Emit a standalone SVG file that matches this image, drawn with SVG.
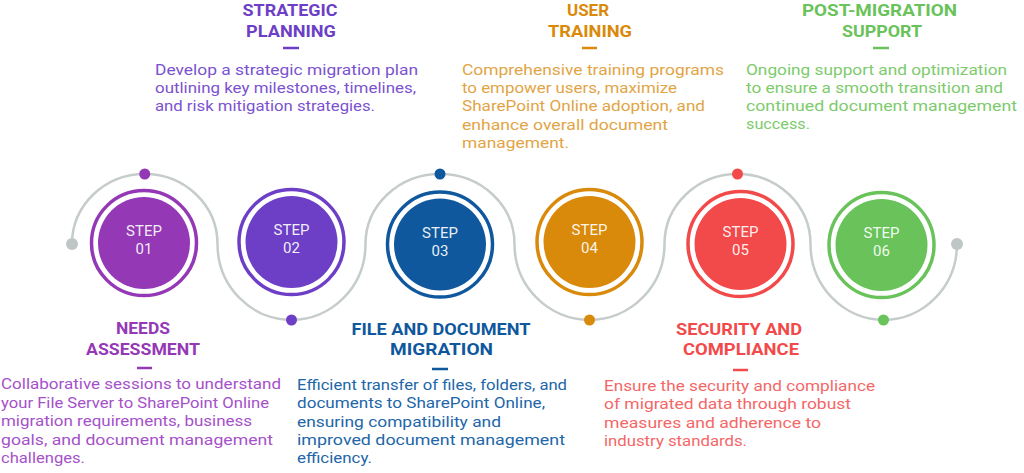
<svg xmlns="http://www.w3.org/2000/svg" width="1024" height="473" viewBox="0 0 1024 473">
<style>
.ring{fill:none;stroke-width:3.5}
.st{font-family:Roboto,"Liberation Sans",sans-serif;font-size:15px;fill:#fff;fill-opacity:0.92;text-anchor:middle}
.ti{font-family:Roboto,"Liberation Sans",sans-serif;font-weight:700;font-size:16.5px;text-anchor:middle}
.bd{font-family:Roboto,"Liberation Sans",sans-serif;font-size:15px}
.dash{stroke-width:2.5}
.c1{fill:#9438b6}.s1{stroke:#9438b6}.b1{fill:#a551c9}
.c2{fill:#6d3fc6}.s2{stroke:#6d3fc6}.b2{fill:#7b52cf}
.c3{fill:#0f589e}.s3{stroke:#0f589e}.b3{fill:#2266a8}
.c4{fill:#d98a0a}.s4{stroke:#d98a0a}.b4{fill:#e2a445}
.c5{fill:#f24a4a}.s5{stroke:#f24a4a}.b5{fill:#f46767}
.c6{fill:#69c35a}.s6{stroke:#69c35a}.b6{fill:#7dcb6c}
</style>
<g id="connectors">
<path d="M 72 244 A 72.75 70 0 0 1 217.5 244 A 74 76 0 0 0 365.5 244 A 74.5 70 0 0 1 514.5 244 A 75 76 0 0 0 664.5 244 A 73 70 0 0 1 810.5 244 A 73.25 76 0 0 0 957 244" fill="none" stroke="#c6cccc" stroke-width="2.5"/>
<circle cx="72" cy="244" r="6" fill="#bfc6c6"/>
<circle cx="957" cy="244" r="6" fill="#bfc6c6"/>
<circle cx="144.75" cy="174" r="5.5" class="c1"/>
<circle cx="291.5" cy="320" r="5.5" class="c2"/>
<circle cx="440" cy="174" r="5.5" class="c3"/>
<circle cx="589.5" cy="320" r="5.5" class="c4"/>
<circle cx="737.5" cy="174" r="5.5" class="c5"/>
<circle cx="883.5" cy="320" r="5.5" class="c6"/>
</g>
<g id="step1">
<circle cx="144" cy="243" r="52.5" class="ring s1"/>
<circle cx="144" cy="243" r="46" class="c1"/>
<text x="144" y="236" class="st">STEP</text>
<text x="144" y="254" class="st">01</text>
<text x="143" y="334" class="ti c1" textLength="54" lengthAdjust="spacingAndGlyphs">NEEDS</text>
<text x="143" y="355" class="ti c1" textLength="114" lengthAdjust="spacingAndGlyphs">ASSESSMENT</text>
<line x1="137" y1="368" x2="152" y2="368" class="dash s1"/>
<text class="bd b1"><tspan x="1" y="389" textLength="280" lengthAdjust="spacingAndGlyphs">Collaborative sessions to understand</tspan></text>
<text class="bd b1"><tspan x="1" y="407.5" textLength="268" lengthAdjust="spacingAndGlyphs">your File Server to SharePoint Online</tspan></text>
<text class="bd b1"><tspan x="1" y="426" textLength="251" lengthAdjust="spacingAndGlyphs">migration requirements, business</tspan></text>
<text class="bd b1"><tspan x="1" y="444.5" textLength="272" lengthAdjust="spacingAndGlyphs">goals, and document management</tspan></text>
<text class="bd b1"><tspan x="1" y="463" textLength="84" lengthAdjust="spacingAndGlyphs">challenges.</tspan></text>
</g>
<g id="step2">
<circle cx="291.5" cy="242" r="52.5" class="ring s2"/>
<circle cx="291.5" cy="242" r="46" class="c2"/>
<text x="291.5" y="235" class="st">STEP</text>
<text x="291.5" y="253" class="st">02</text>
<text x="290" y="16" class="ti c2" textLength="95" lengthAdjust="spacingAndGlyphs">STRATEGIC</text>
<text x="291" y="36.5" class="ti c2" textLength="90" lengthAdjust="spacingAndGlyphs">PLANNING</text>
<line x1="283" y1="48" x2="299" y2="48" class="dash s2"/>
<text class="bd b2"><tspan x="155" y="75" textLength="263" lengthAdjust="spacingAndGlyphs">Develop a strategic migration plan</tspan></text>
<text class="bd b2"><tspan x="155" y="93" textLength="261" lengthAdjust="spacingAndGlyphs">outlining key milestones, timelines,</tspan></text>
<text class="bd b2"><tspan x="155" y="111" textLength="220" lengthAdjust="spacingAndGlyphs">and risk mitigation strategies.</tspan></text>
</g>
<g id="step3">
<circle cx="440" cy="244.5" r="52.5" class="ring s3"/>
<circle cx="440" cy="244.5" r="46" class="c3"/>
<text x="440" y="238" class="st">STEP</text>
<text x="440" y="256" class="st">03</text>
<text x="441" y="334.5" class="ti c3" textLength="179" lengthAdjust="spacingAndGlyphs">FILE AND DOCUMENT</text>
<text x="441.5" y="355" class="ti c3" textLength="103" lengthAdjust="spacingAndGlyphs">MIGRATION</text>
<line x1="432" y1="369" x2="448" y2="369" class="dash s3"/>
<text class="bd b3"><tspan x="297" y="390" textLength="270" lengthAdjust="spacingAndGlyphs">Efficient transfer of files, folders, and</tspan></text>
<text class="bd b3"><tspan x="297" y="408" textLength="248" lengthAdjust="spacingAndGlyphs">documents to SharePoint Online,</tspan></text>
<text class="bd b3"><tspan x="297" y="426.5" textLength="204" lengthAdjust="spacingAndGlyphs">ensuring compatibility and</tspan></text>
<text class="bd b3"><tspan x="297" y="445" textLength="268" lengthAdjust="spacingAndGlyphs">improved document management</tspan></text>
<text class="bd b3"><tspan x="297" y="463" textLength="75" lengthAdjust="spacingAndGlyphs">efficiency.</tspan></text>
</g>
<g id="step4">
<circle cx="589.5" cy="242" r="52.5" class="ring s4"/>
<circle cx="589.5" cy="242" r="46" class="c4"/>
<text x="589.5" y="235" class="st">STEP</text>
<text x="589.5" y="253" class="st">04</text>
<text x="588" y="16" class="ti c4" textLength="42" lengthAdjust="spacingAndGlyphs">USER</text>
<text x="590" y="36.5" class="ti c4" textLength="84" lengthAdjust="spacingAndGlyphs">TRAINING</text>
<line x1="582" y1="48" x2="597" y2="48" class="dash s4"/>
<text class="bd b4"><tspan x="462" y="74.5" textLength="262" lengthAdjust="spacingAndGlyphs">Comprehensive training programs</tspan></text>
<text class="bd b4"><tspan x="462" y="93" textLength="215" lengthAdjust="spacingAndGlyphs">to empower users, maximize</tspan></text>
<text class="bd b4"><tspan x="462" y="111" textLength="243" lengthAdjust="spacingAndGlyphs">SharePoint Online adoption, and</tspan></text>
<text class="bd b4"><tspan x="462" y="129.5" textLength="206" lengthAdjust="spacingAndGlyphs">enhance overall document</tspan></text>
<text class="bd b4"><tspan x="462" y="148" textLength="107" lengthAdjust="spacingAndGlyphs">management.</tspan></text>
</g>
<g id="step5">
<circle cx="740.5" cy="244" r="52.5" class="ring s5"/>
<circle cx="740.5" cy="244" r="46" class="c5"/>
<text x="740.5" y="237" class="st">STEP</text>
<text x="740.5" y="255" class="st">05</text>
<text x="739" y="334.5" class="ti c5" textLength="126" lengthAdjust="spacingAndGlyphs">SECURITY AND</text>
<text x="741" y="355" class="ti c5" textLength="116" lengthAdjust="spacingAndGlyphs">COMPLIANCE</text>
<line x1="733" y1="370" x2="748" y2="370" class="dash s5"/>
<text class="bd b5"><tspan x="604" y="391" textLength="271" lengthAdjust="spacingAndGlyphs">Ensure the security and compliance</tspan></text>
<text class="bd b5"><tspan x="604" y="409" textLength="247" lengthAdjust="spacingAndGlyphs">of migrated data through robust</tspan></text>
<text class="bd b5"><tspan x="604" y="427.5" textLength="217" lengthAdjust="spacingAndGlyphs">measures and adherence to</tspan></text>
<text class="bd b5"><tspan x="604" y="446" textLength="143" lengthAdjust="spacingAndGlyphs">industry standards.</tspan></text>
</g>
<g id="step6">
<circle cx="881.5" cy="245" r="52.5" class="ring s6"/>
<circle cx="881.5" cy="245" r="46" class="c6"/>
<text x="881.5" y="238" class="st">STEP</text>
<text x="881.5" y="256" class="st">06</text>
<text x="879.5" y="16" class="ti c6" textLength="155" lengthAdjust="spacingAndGlyphs">POST-MIGRATION</text>
<text x="882" y="36.5" class="ti c6" textLength="80" lengthAdjust="spacingAndGlyphs">SUPPORT</text>
<line x1="873" y1="48" x2="889" y2="48" class="dash s6"/>
<text class="bd b6"><tspan x="746" y="75" textLength="261" lengthAdjust="spacingAndGlyphs">Ongoing support and optimization</tspan></text>
<text class="bd b6"><tspan x="746" y="93" textLength="257" lengthAdjust="spacingAndGlyphs">to ensure a smooth transition and</tspan></text>
<text class="bd b6"><tspan x="746" y="111" textLength="271" lengthAdjust="spacingAndGlyphs">continued document management</tspan></text>
<text class="bd b6"><tspan x="746" y="129" textLength="64" lengthAdjust="spacingAndGlyphs">success.</tspan></text>
</g>
</svg>
